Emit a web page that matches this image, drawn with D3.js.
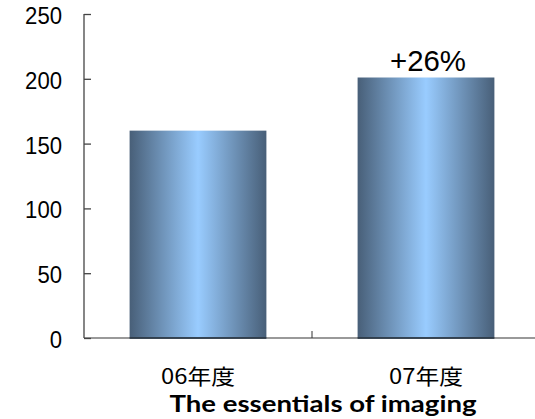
<!DOCTYPE html>
<html><head><meta charset="utf-8">
<script src="https://cdn.jsdelivr.net/npm/d3@7"></script>
<style>body{margin:0;background:#fff}svg{display:block}</style>
</head><body>
<script>
const categories = ["06年度", "07年度"];
const values = [160, 201];
const yTicks = [0, 50, 100, 150, 200, 250];
const annotation = {category: "07年度", text: "+26%"};
const caption = "The essentials of imaging";

const W = 535, H = 419;
const svg = d3.select("body").append("svg").attr("width", W).attr("height", H);
const cjk = "'Noto Sans CJK JP', 'DejaVu Sans', sans-serif";
const sans = "'Liberation Sans', Arial, sans-serif";

const x = d3.scaleBand().domain(categories).range([84, 540]).paddingInner(0.4).paddingOuter(0.2);
const y = d3.scaleLinear().domain([0, 250]).range([338, 14]);

const grad = svg.append("defs").append("linearGradient").attr("id", "g")
  .attr("x1", "0%").attr("x2", "100%").attr("y1", "0%").attr("y2", "0%");
grad.append("stop").attr("offset", "0%").attr("stop-color", "#485f78");
grad.append("stop").attr("offset", "50%").attr("stop-color", "#99ccff");
grad.append("stop").attr("offset", "100%").attr("stop-color", "#485f78");

// bars
svg.selectAll("rect.bar").data(values).join("rect").attr("class", "bar")
  .attr("x", (d, i) => x(categories[i]))
  .attr("width", x.bandwidth())
  .attr("y", d => y(d))
  .attr("height", d => y(0) - y(d))
  .attr("fill", "url(#g)");

// x axis
const xAxis = svg.append("g").attr("transform", `translate(0,${y(0)})`);
xAxis.append("line").attr("x1", 84).attr("x2", 540).attr("y1", 0).attr("y2", 0)
  .attr("stroke", "#777").attr("stroke-width", 1.5);
svg.selectAll("line.bb").data(values).join("line").attr("class", "bb")
  .attr("x1", (d, i) => x(categories[i])).attr("x2", (d, i) => x(categories[i]) + x.bandwidth())
  .attr("y1", y(0)).attr("y2", y(0)).attr("stroke", "#1c2c3c").attr("stroke-width", 1.5);
const step = x.step();
xAxis.append("line").attr("x1", 84 + step).attr("x2", 84 + step).attr("y1", 0).attr("y2", -7)
  .attr("stroke", "#333").attr("stroke-width", 1);
xAxis.selectAll("text").data(categories).join("text")
  .attr("x", d => x(d) + x.bandwidth() / 2).attr("y", 46)
  .attr("text-anchor", "middle").attr("font-family", cjk).attr("font-size", 21).attr("fill", "#000")
  .attr("textLength", 74).attr("lengthAdjust", "spacingAndGlyphs")
  .text(d => d);

// y axis
const yAxis = svg.append("g").attr("transform", "translate(84,0)")
  .call(d3.axisRight(y).tickValues(yTicks).tickSize(7).tickFormat(""));
yAxis.select(".domain").attr("stroke", "#444").attr("stroke-width", 1.3).attr("d", `M0,${y(250)}V${y(0)}`);
yAxis.selectAll(".tick line").attr("stroke", "#444").attr("stroke-width", 1.3);
svg.selectAll("text.yl").data(yTicks).join("text").attr("class", "yl")
  .attr("x", 62).attr("y", d => y(d) + 10)
  .attr("text-anchor", "end").attr("font-family", sans)
  .attr("font-size", 23).attr("fill", "#000")
  .attr("textLength", d => String(d).length * 12.3).attr("lengthAdjust", "spacingAndGlyphs")
  .text(d => d);

// annotation
const ai = categories.indexOf(annotation.category);
svg.append("text").attr("x", x(annotation.category) + x.bandwidth() / 2 + 2).attr("y", 71)
  .attr("text-anchor", "middle").attr("font-family", sans)
  .attr("font-size", 30).attr("fill", "#000")
  .attr("textLength", 76).attr("lengthAdjust", "spacingAndGlyphs")
  .text(annotation.text);

// caption
svg.append("text").attr("x", 323).attr("y", 412).attr("text-anchor", "middle")
  .attr("font-family", "Lato, sans-serif").attr("font-weight", "bold")
  .attr("font-size", 23.5).attr("fill", "#000")
  .attr("textLength", 307).attr("lengthAdjust", "spacingAndGlyphs")
  .text(caption);
</script>
</body></html>
